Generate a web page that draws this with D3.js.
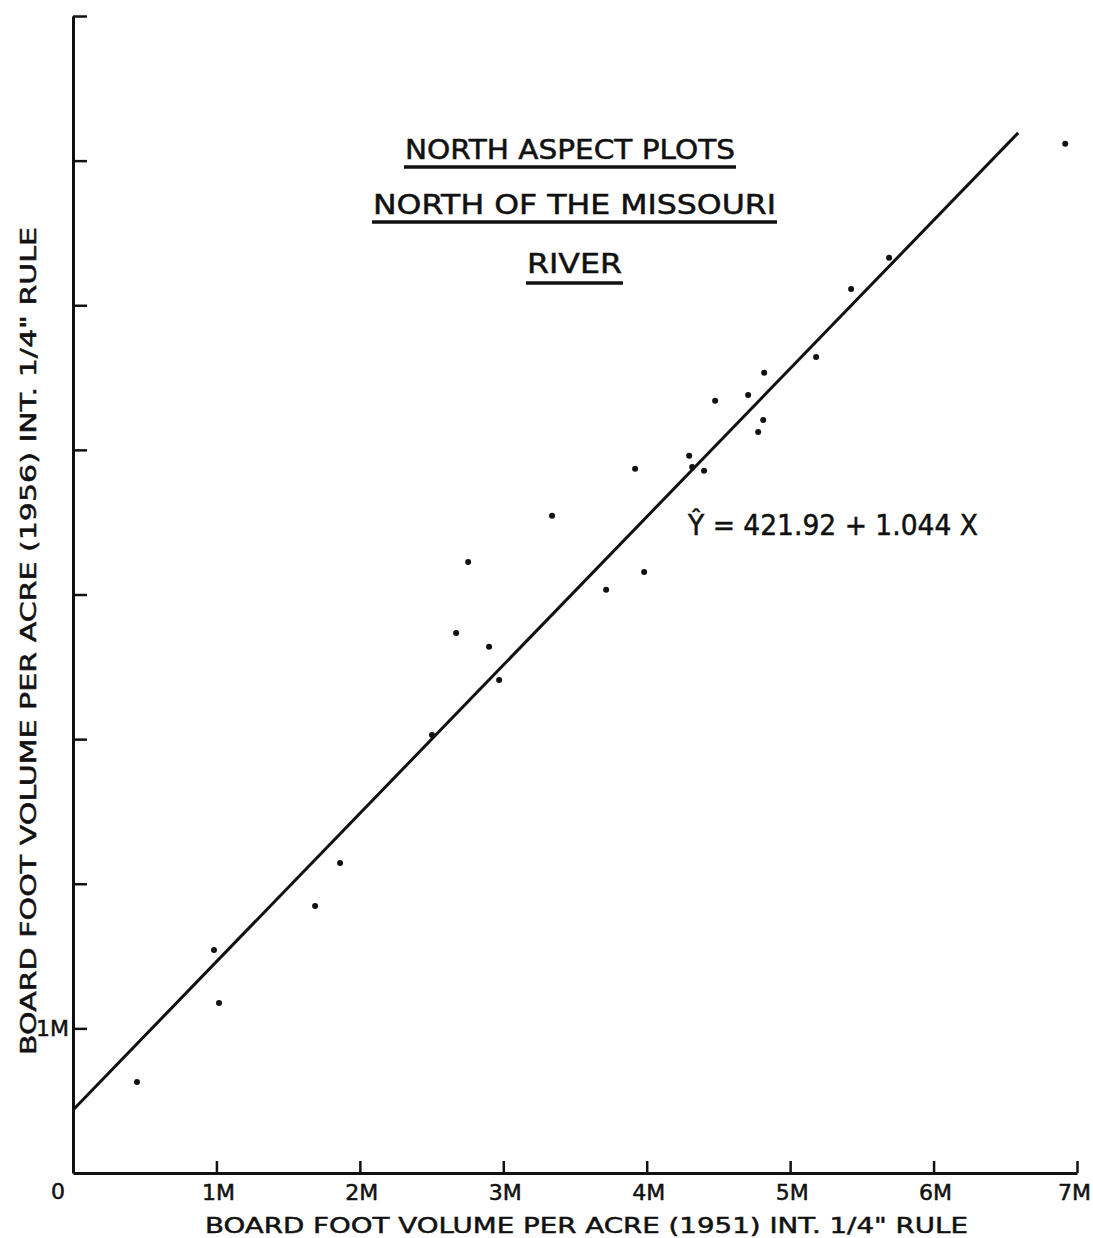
<!DOCTYPE html>
<html>
<head>
<meta charset="utf-8">
<script src="https://cdn.jsdelivr.net/npm/d3@7"></script>
<style>
  html, body { margin: 0; padding: 0; background: #fff; }
  svg { display: block; }
  text { font-family: "DejaVu Sans", "Liberation Sans", sans-serif; fill: #111; stroke: #111; stroke-width: 0.5; }
</style>
</head>
<body>
<svg id="chart" width="1093" height="1238"></svg>
<script>
// ---- data (millions of board feet per acre) ----
const x1951 = [0.446, 0.983, 1.018, 1.688, 1.862, 2.503, 2.671, 2.755, 2.901, 2.971,
               3.340, 3.717, 3.919, 3.982, 4.296, 4.317, 4.400, 4.477, 4.707, 4.777,
               4.812, 4.819, 5.181, 5.425, 5.690, 6.918];
const y1956 = [0.629, 1.542, 1.176, 1.846, 2.144, 3.029, 3.734, 4.225, 3.638, 3.409,
               4.544, 4.032, 4.869, 4.156, 4.959, 4.882, 4.855, 5.339, 5.380, 5.124,
               5.207, 5.533, 5.643, 6.113, 6.328, 7.116];
// regression line as drawn (end points)
const fitX = [0, 6.59];
const fitY = [0.436, 7.192];
const xTickValues = [1, 2, 3, 4, 5, 6, 7];
const xTickLabels = ["1M", "2M", "3M", "4M", "5M", "6M", "7M"];
const yTickValues = [1, 2, 3, 4, 5, 6, 7, 8];
const yTickLabels = ["1M"];
const titleLines = ["NORTH ASPECT PLOTS", "NORTH OF THE MISSOURI", "RIVER"];
const equationText = "Ŷ = 421.92 + 1.044 X";
const xTitle = 'BOARD FOOT VOLUME PER ACRE (1951) INT. 1/4" RULE';
const yTitle = 'BOARD FOOT VOLUME PER ACRE (1956) INT. 1/4" RULE';

const svg = d3.select("#chart");
const x = d3.scaleLinear().domain([0, 7]).range([73, 1077]);
const y = d3.scaleLinear().domain([0, 8]).range([1173, 16]);
const ink = "#111";

// axes
const xAxis = d3.axisBottom(x).tickValues(xTickValues).tickSize(-12).tickFormat("").tickSizeOuter(0);
const gx = svg.append("g").attr("transform", `translate(0,${y(0)})`).call(xAxis);
gx.select(".domain").attr("stroke", ink).attr("stroke-width", 3);
gx.selectAll(".tick line").attr("stroke", ink).attr("stroke-width", 2.5);

const yAxis = d3.axisLeft(y).tickValues(yTickValues).tickSize(-14).tickFormat("").tickSizeOuter(0);
const gy = svg.append("g").attr("transform", `translate(${x(0)},0)`).call(yAxis);
gy.select(".domain").attr("stroke", ink).attr("stroke-width", 3);
gy.selectAll(".tick line").attr("stroke", ink).attr("stroke-width", 2.5);

// tick labels
svg.append("text").attr("x", 58).attr("y", y(0) + 26).attr("text-anchor", "middle")
  .attr("font-size", 22).text("0");
svg.selectAll(".xlab").data(xTickValues).join("text")
  .attr("class", "xlab")
  .attr("x", (d, i) => i === xTickValues.length - 1 ? 1091 : x(d) + 2)
  .attr("y", y(0) + 27)
  .attr("text-anchor", (d, i) => i === xTickValues.length - 1 ? "end" : "middle")
  .attr("font-size", 22)
  .text((d, i) => xTickLabels[i]);
svg.append("text").attr("x", x(0) - 4).attr("y", y(1) + 8).attr("text-anchor", "end")
  .attr("font-size", 22).text(yTickLabels[0]);

// axis titles
svg.append("text").attr("x", 205).attr("y", 1233)
  .attr("font-size", 22).attr("textLength", 763).attr("lengthAdjust", "spacingAndGlyphs")
  .text(xTitle);
svg.append("text").attr("transform", "translate(36,1055) rotate(-90)")
  .attr("x", 0).attr("y", 0)
  .attr("font-size", 22).attr("textLength", 828).attr("lengthAdjust", "spacingAndGlyphs")
  .text(yTitle);

// regression line
svg.append("line")
  .attr("x1", x(fitX[0])).attr("y1", y(fitY[0]))
  .attr("x2", x(fitX[1])).attr("y2", y(fitY[1]))
  .attr("stroke", ink).attr("stroke-width", 3);

// points
svg.selectAll(".pt").data(x1951).join("circle")
  .attr("class", "pt")
  .attr("cx", d => x(d)).attr("cy", (d, i) => y(y1956[i]))
  .attr("r", 3).attr("fill", ink);

// title block
const titleSpec = [
  { x0: 405, x1: 735, base: 159, ul: 167 },
  { x0: 373, x1: 776, base: 214, ul: 222 },
  { x0: 527, x1: 622, base: 273, ul: 283 }
];
titleLines.forEach((t, i) => {
  const s = titleSpec[i];
  svg.append("text").attr("x", s.x0).attr("y", s.base)
    .attr("font-size", 26).attr("textLength", s.x1 - s.x0).attr("lengthAdjust", "spacingAndGlyphs")
    .text(t);
  svg.append("line").attr("x1", s.x0 - 1).attr("x2", s.x1 + 1)
    .attr("y1", s.ul).attr("y2", s.ul).attr("stroke", ink).attr("stroke-width", 3.5);
});

// equation
svg.append("text").attr("x", 688).attr("y", 535)
  .attr("font-size", 28).attr("textLength", 290).attr("lengthAdjust", "spacingAndGlyphs")
  .text(equationText);
</script>
</body>
</html>
